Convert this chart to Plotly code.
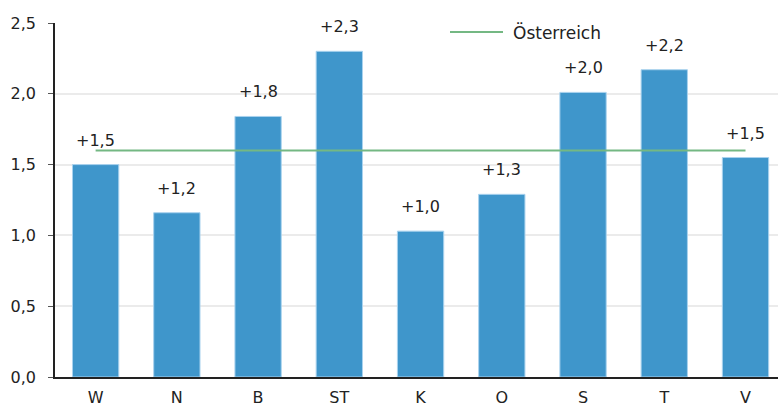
import plotly.graph_objects as go

categories = ["W", "N", "B", "ST", "K", "O", "S", "T", "V"]
values = [1.50, 1.16, 1.84, 2.30, 1.03, 1.29, 2.01, 2.17, 1.55]
labels = ["+1,5", "+1,2", "+1,8", "+2,3", "+1,0", "+1,3", "+2,0", "+2,2", "+1,5"]
austria = 1.6
austria_name = "Österreich"
y_ticks = [0, 0.5, 1.0, 1.5, 2.0, 2.5]

FONT = "DejaVu Sans"
LINE_COLOR = "#74b883"

fig = go.Figure()
fig.add_trace(go.Bar(
    x=categories, y=values, width=0.57,
    marker=dict(color="#3f96cb", line=dict(color="#a9d2ee", width=1)),
    showlegend=False, hoverinfo="skip",
))
fig.add_trace(go.Scatter(
    x=categories, y=[austria] * len(categories), mode="lines",
    line=dict(color=LINE_COLOR, width=2), name=austria_name, showlegend=False,
    hoverinfo="skip",
))
for c, v, t in zip(categories, values, labels):
    fig.add_annotation(x=c, y=v, text=t, showarrow=False, yanchor="bottom",
                       yshift=13, font=dict(family=FONT, size=16, color="#222222"))

# legend drawn manually (line sample + label) to match the reference's long sample
W_PLOT = 778 - 55
H_PLOT = 408 - 23 - 31
def px_x(p):
    return (p - 55) / W_PLOT
def px_y(p):
    return 1 - (p - 23) / H_PLOT

fig.add_shape(type="line", xref="paper", yref="paper",
              x0=px_x(450), x1=px_x(503), y0=px_y(32), y1=px_y(32),
              line=dict(color=LINE_COLOR, width=2))
fig.add_annotation(xref="paper", yref="paper", x=px_x(511), y=px_y(32),
                   xanchor="left", yanchor="middle", text=austria_name,
                   showarrow=False, font=dict(family=FONT, size=17, color="#222222"))

fig.update_layout(
    width=778, height=408,
    margin=dict(l=55, r=0, t=23, b=31, autoexpand=False),
    plot_bgcolor="white", paper_bgcolor="white",
    separators=",.",
    font=dict(family=FONT, size=16, color="#222222"),
    showlegend=False,
    hovermode=False,
    xaxis=dict(range=[-0.5, 8.4], showline=True, linecolor="#222222", linewidth=1.5,
               ticks="outside", ticklen=5, tickcolor="rgba(0,0,0,0)",
               showgrid=False, automargin=False, fixedrange=True, mirror=False),
    yaxis=dict(range=[0, 2.5], tickvals=y_ticks, tickformat=".1f",
               showline=True, linecolor="#222222", linewidth=1.5,
               ticks="outside", ticklen=5, tickcolor="#555555",
               ticklabelstandoff=9, mirror=False,
               gridcolor="#ebebeb", gridwidth=2, zeroline=False,
               automargin=False, fixedrange=True),
)
fig.write_html("out.html", config={"displayModeBar": False},
               post_script="document.body.style.margin='0';document.body.style.overflow='hidden';")
